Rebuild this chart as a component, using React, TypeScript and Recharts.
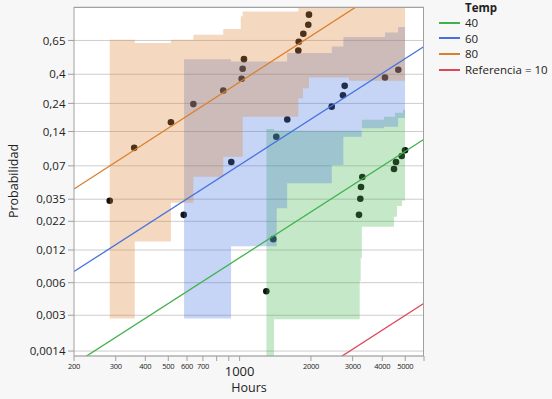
import React from 'react'
import {
  Area,
  CartesianGrid,
  ComposedChart,
  Line,
  Scatter,
  XAxis,
  YAxis,
} from 'recharts'

const FONT = '"Open Sans", "Noto Sans", sans-serif'

// Weibull probability paper: y is ln(-ln(1 - p))
const weib = (p: number) => Math.log(-Math.log(1 - p))

// Axis ticks
const PROB_TICKS = [0.0014, 0.003, 0.006, 0.012, 0.022, 0.035, 0.07, 0.14, 0.24, 0.4, 0.65]
const PROB_LABELS = ['0,0014', '0,003', '0,006', '0,012', '0,022', '0,035', '0,07', '0,14', '0,24', '0,4', '0,65']
const PROB_RANGE = [0.00126, 0.8826]

const HOUR_TICKS = [200, 300, 400, 500, 600, 700, 800, 900, 1000, 2000, 3000, 4000, 5000, 6000]
const HOUR_LABELS = ['200', '300', '400', '500', '600', '700', '', '', '1000', '2000', '3000', '4000', '5000', '']
const HOUR_RANGE = [200, 6000]

// Temp groups
const GROUPS = ['40', '60', '80']
const COLORS = ['#3fb24c', '#4372de', '#d9802e']
const REF_NAME = 'Referencia = 10'
const REF_COLOR = '#e0465a'

// nonparametric estimates: [hours, probability]
const DOTS_40 = [
  [1296, 0.005], [1387, 0.0151], [3190, 0.0252], [3231, 0.0353], [3253, 0.0451],
  [3294, 0.0556], [4483, 0.0656], [4571, 0.0757], [4831, 0.0856], [4989, 0.0962],
]
const DOTS_60 = [
  [581, 0.0252], [922, 0.0757], [1428, 0.126], [1589, 0.177], [2447, 0.226],
  [2731, 0.279], [2776, 0.329], [4107, 0.379], [4674, 0.43],
]
const DOTS_80 = [
  [283, 0.0339], [359, 0.101], [513, 0.168], [638, 0.237], [853, 0.303],
  [1020, 0.371], [1030, 0.437], [1043, 0.506], [1769, 0.572], [1776, 0.64],
  [1857, 0.702], [1949, 0.77], [1962, 0.838],
]

// simultaneous confidence bands: [hours, lower, upper]
const BAND_40 = [
  [1298, 0.001, 0.147], [1397, 0.00275, 0.142], [3212, 0.0062, 0.142], [3243, 0.0101, 0.142],
  [3280, 0.0196, 0.176], [4067, 0.0196, 0.187], [4483, 0.0242, 0.187], [4527, 0.0242, 0.201],
  [4616, 0.0303, 0.201], [4846, 0.034, 0.201], [4893, 0.034, 0.213], [4989, 0.034, 0.213],
]
const BAND_60 = [
  [583, 0.0028, 0.506], [920, 0.013, 0.489], [1434, 0.0289, 0.489], [1587, 0.0488, 0.552],
  [2450, 0.0711, 0.603], [2740, 0.126, 0.677], [3275, 0.149, 0.677], [4067, 0.154, 0.677],
  [4107, 0.154, 0.712], [4665, 0.182, 0.753], [4989, 0.182, 0.753],
]
const BAND_80 = [
  [283, 0.0028, 0.655], [361, 0.0144, 0.63], [513, 0.0325, 0.655], [638, 0.0559, 0.694],
  [853, 0.0844, 0.738], [1011, 0.0844, 0.827], [1030, 0.187, 0.857], [1769, 0.264, 0.95],
  [1851, 0.316, 0.95], [1962, 0.379, 0.95], [2895, 0.359, 0.95], [4989, 0.359, 0.95],
]

// fitted Weibull lines: [hours, probability] end points
const LINE_40 = [[200, 0.00106], [6000, 0.12]]
const LINE_60 = [[200, 0.0076], [6000, 0.603]]
const LINE_80 = [[200, 0.0433], [3100, 0.883]]
const LINE_REF = [[2600, 0.00119], [6000, 0.00387]]

const toPoints = (rows: number[][]) => rows.map(([h, p]) => ({ h, ty: weib(p) }))
const toBand = (rows: number[][]) =>
  rows.map(([h, lo, hi]) => ({ h, band: [weib(lo), weib(hi)] }))

const DOTS = [DOTS_40, DOTS_60, DOTS_80]
const BANDS = [BAND_40, BAND_60, BAND_80]
const LINES = [LINE_40, LINE_60, LINE_80]

function HourTick(props: any) {
  const { x, y, payload } = props
  const i = HOUR_TICKS.indexOf(payload.value)
  const label = HOUR_LABELS[i]
  if (!label) return <g />
  const big = payload.value === 1000
  return (
    <text
      x={x}
      y={y + (big ? 13 : 5.7)}
      textAnchor="middle"
      fontSize={big ? 13 : 7.5}
      letterSpacing={big ? 0 : -0.3}
      fill="#222"
      fontFamily={FONT}
    >
      {label}
    </text>
  )
}

const dotShape = (props: any) => (
  <circle cx={props.cx} cy={props.cy} r={3.3} fill="#111" />
)

export default function App() {
  const legendRows = [
    ...GROUPS.map((g, i) => ({ name: g, color: COLORS[i] })),
    { name: REF_NAME, color: REF_COLOR },
  ]

  return (
    <div
      style={{
        position: 'absolute',
        left: 0,
        top: 0,
        width: 552,
        height: 399,
        background: '#f7f7f7',
        fontFamily: FONT,
        color: '#222',
      }}
    >
      <ComposedChart
        width={552}
        height={399}
        margin={{ top: 7, right: 128, bottom: 0, left: 0 }}
      >
        <CartesianGrid vertical={false} stroke="#cdcdcd" fill="#ffffff" />
        <XAxis
          type="number"
          dataKey="h"
          scale="log"
          domain={HOUR_RANGE}
          allowDataOverflow
          ticks={HOUR_TICKS}
          interval={0}
          height={43}
          tickSize={5}
          tickMargin={2}
          stroke="#a0a0a0"
          tick={<HourTick />}
          label={{
            value: 'Hours',
            position: 'insideBottom',
            offset: 7,
            fill: '#222',
            fontSize: 12.5,
            fontFamily: FONT,
          }}
        />
        <YAxis
          type="number"
          domain={PROB_RANGE.map(weib)}
          allowDataOverflow
          ticks={PROB_TICKS.map(weib)}
          interval={0}
          width={74}
          tickSize={6}
          tickMargin={2.5}
          stroke="#a0a0a0"
          tickFormatter={(_v: number, i: number) => PROB_LABELS[i]}
          tick={{ fontSize: 11.5, fill: '#222', fontFamily: FONT }}
        />
        {DOTS.map((d, i) => (
          <Scatter
            key={`dots-${i}`}
            data={toPoints(d)}
            dataKey="ty"
            shape={dotShape}
            zIndex={50}
            isAnimationActive={false}
          />
        ))}
        {BANDS.map((b, i) => (
          <Area
            key={`band-${i}`}
            data={toBand(b)}
            dataKey="band"
            type="stepAfter"
            stroke="none"
            fill={COLORS[i]}
            fillOpacity={0.3}
            activeDot={false}
            isAnimationActive={false}
          />
        ))}
        {LINES.map((l, i) => (
          <Line
            key={`line-${i}`}
            data={toPoints(l)}
            dataKey="ty"
            stroke={COLORS[i]}
            strokeWidth={1.3}
            dot={false}
            activeDot={false}
            isAnimationActive={false}
          />
        ))}
        <Line
          data={toPoints(LINE_REF)}
          dataKey="ty"
          stroke={REF_COLOR}
          strokeWidth={1.3}
          dot={false}
          activeDot={false}
          isAnimationActive={false}
        />
      </ComposedChart>

      {/* plot frame, top and right edges */}
      <div
        style={{
          position: 'absolute',
          left: 74,
          top: 7,
          width: 350,
          height: 349,
          borderTop: '1px solid #a0a0a0',
          borderRight: '1px solid #a0a0a0',
          boxSizing: 'border-box',
          pointerEvents: 'none',
        }}
      />

      <div
        style={{
          position: 'absolute',
          left: 13,
          top: 181,
          fontSize: 12.5,
          whiteSpace: 'nowrap',
          transform: 'translate(-50%, -50%) rotate(-90deg)',
        }}
      >
        Probabilidad
      </div>

      <div style={{ position: 'absolute', left: 439, top: 0, fontSize: 11.5 }}>
        <div style={{ fontWeight: 700, marginLeft: 26, lineHeight: '15px' }}>Temp</div>
        {legendRows.map((r) => (
          <div
            key={r.name}
            style={{ display: 'flex', alignItems: 'center', height: 15.6, lineHeight: '15px' }}
          >
            <span
              style={{
                display: 'inline-block',
                width: 21,
                height: 2,
                background: r.color,
                marginRight: 5,
              }}
            />
            <span>{r.name}</span>
          </div>
        ))}
      </div>
    </div>
  )
}
